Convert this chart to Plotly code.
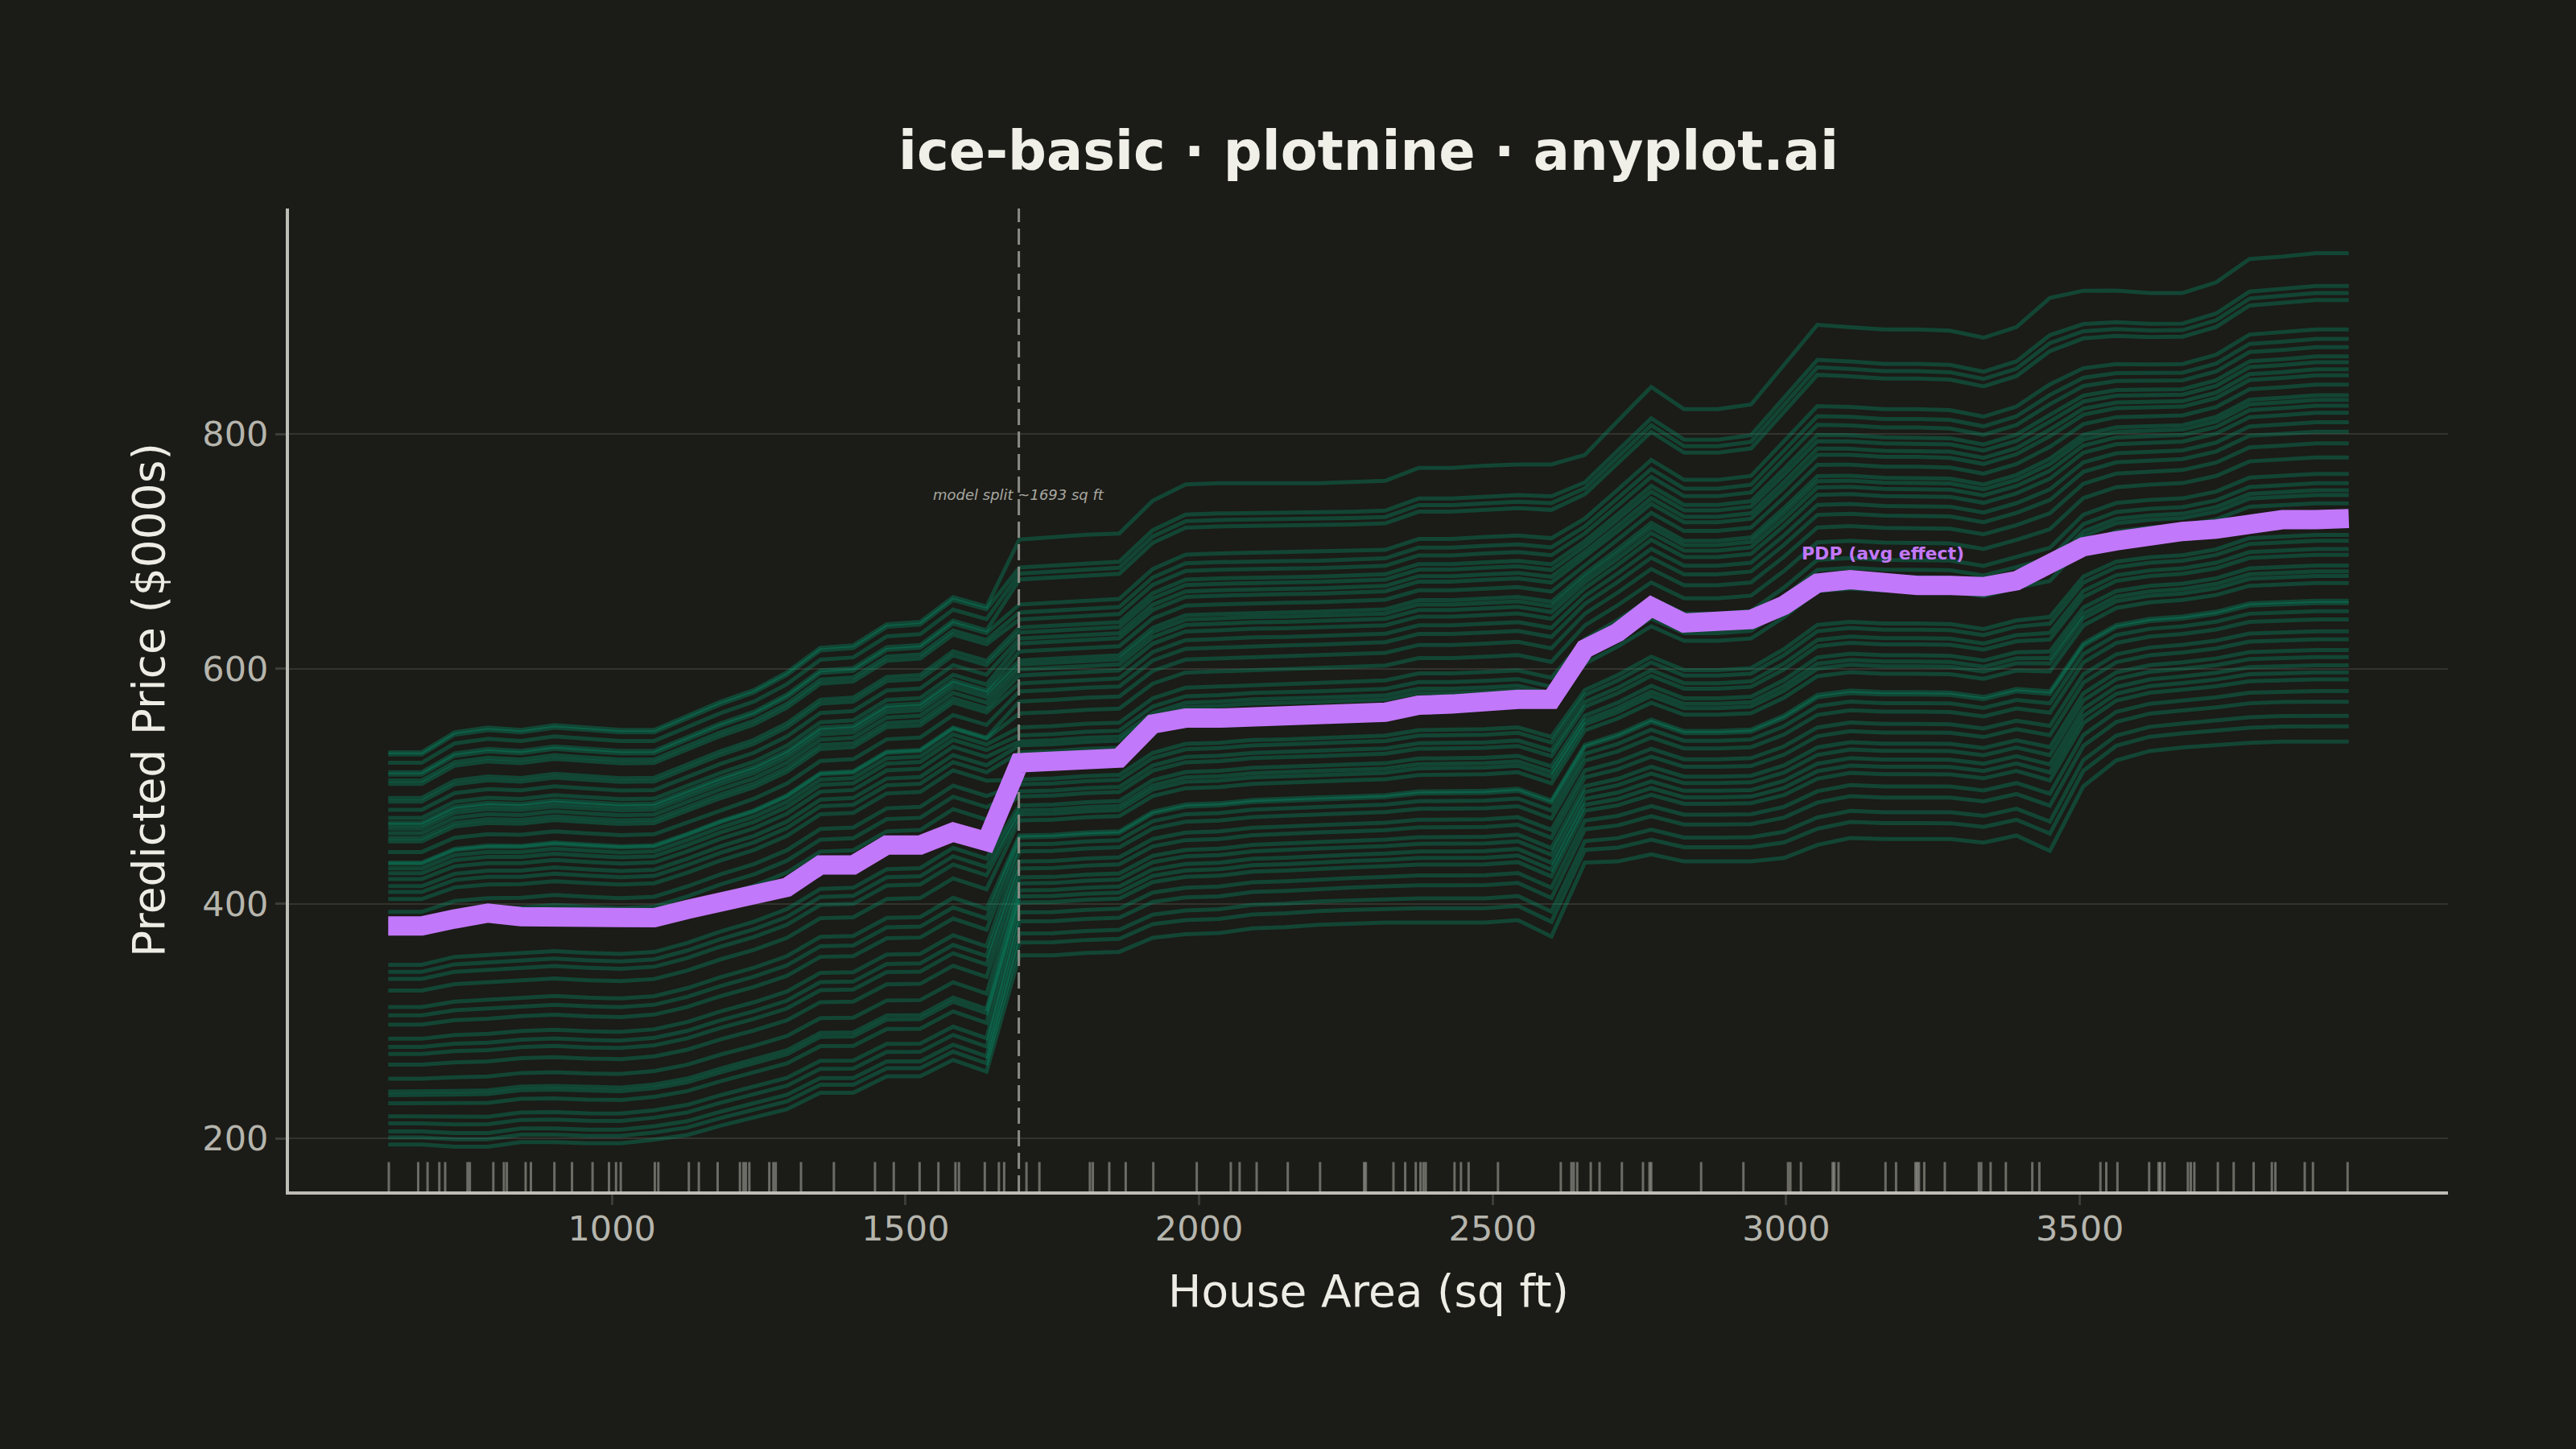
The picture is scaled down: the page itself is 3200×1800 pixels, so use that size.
import plotly.graph_objects as go

# grid of house areas where the model was evaluated (sq ft)
grid_x = [619, 676, 732, 789, 845, 902, 959, 1015, 1072, 1128,
          1185, 1242, 1298, 1355, 1411, 1468, 1525, 1581, 1638, 1694,
          1751, 1808, 1864, 1921, 1977, 2034, 2091, 2147, 2204, 2260,
          2317, 2374, 2430, 2487, 2543, 2600, 2657, 2713, 2770, 2826,
          2883, 2940, 2996, 3053, 3109, 3166, 3223, 3279, 3336, 3392,
          3449, 3506, 3562, 3619, 3675, 3732, 3789, 3845, 3902, 3958]

# partial dependence (average of the ICE curves), $000s
pdp = [381, 381, 387, 392, 389, 389, 388, 387, 388, 395,
       402, 407, 414, 433, 433, 450, 450, 461, 453, 520,
       520, 523, 524, 553, 558, 558, 558, 559, 562, 562,
       563, 569, 570, 574, 574, 574, 617, 631, 653, 639,
       639, 642, 654, 673, 676, 672, 671, 671, 670, 675,
       688, 704, 709, 714, 717, 719, 725, 727, 727, 728]

# upper / lower envelope of the ICE bundle
ice_high = [529, 529, 546, 550, 548, 552, 550, 548, 548, 560,
            572, 582, 597, 618, 620, 638, 640, 661, 653, 711,
            713, 715, 716, 744, 758, 759, 759, 759, 759, 760,
            761, 772, 772, 774, 775, 775, 783, 812, 841, 822,
            822, 826, 860, 894, 892, 890, 890, 889, 883, 892,
            917, 923, 923, 921, 921, 930, 950, 952, 955, 955]
ice_low = [195, 195, 193, 193, 197, 197, 196, 196, 199, 203,
           211, 218, 225, 239, 239, 253, 253, 267, 257, 356,
           356, 358, 359, 371, 374, 375, 379, 380, 382, 383,
           384, 384, 384, 384, 386, 372, 435, 436, 442, 436,
           436, 436, 439, 450, 456, 455, 455, 455, 452, 458,
           445, 500, 522, 530, 533, 535, 537, 538, 538, 538]

# where each ICE curve starts (smallest area) and ends (largest area)
ice_start = [195, 201, 206, 213, 219, 230, 237, 240, 251, 263,
             272, 278, 285, 297, 305, 312, 326, 336, 342, 348,
             376, 385, 393, 404, 410, 415, 421, 426, 430, 434,
             435, 444, 453, 456, 460, 464, 467, 469, 473, 480,
             487, 490, 502, 505, 510, 512, 520, 527, 529]
ice_end = [538, 551, 560, 572, 581, 591, 597, 603, 610, 616,
           625, 632, 642, 649, 656, 658, 673, 679, 683, 688,
           697, 702, 709, 714, 741, 748, 752, 758, 766, 780,
           792, 802, 810, 818, 824, 829, 833, 842, 850, 855,
           861, 866, 874, 881, 889, 914, 920, 926, 954]

# observed house areas (rug)
rug_x = [620, 670, 686, 706, 716, 754, 758, 798, 816, 821, 853, 862, 902,
         932, 967, 995, 1007, 1015, 1073, 1079, 1131, 1148, 1180, 1218,
         1224, 1228, 1234, 1268, 1275, 1279, 1322, 1378, 1448, 1480, 1524,
         1556, 1585, 1591, 1635, 1659, 1668, 1706, 1728, 1814, 1819, 1847,
         1875, 1922, 1996, 2054, 2069, 2098, 2151, 2206, 2281, 2284, 2331,
         2351, 2369, 2377, 2382, 2386, 2435, 2446, 2459, 2509, 2616, 2634,
         2638, 2644, 2667, 2682, 2720, 2756, 2767, 2770, 2855, 2927, 3003,
         3007, 3025, 3079, 3082, 3089, 3169, 3187, 3220, 3223, 3226, 3235,
         3270, 3328, 3332, 3348, 3374, 3419, 3431, 3535, 3545, 3564, 3618,
         3634, 3637, 3644, 3684, 3689, 3695, 3735, 3762, 3796, 3827, 3833,
         3883, 3897, 3956]

split_x = 1693

BG = '#1B1B17'
ICE_COLOR = 'rgba(0,158,115,0.32)'
PDP_COLOR = '#C278FA'
Y_MIN, Y_MAX = 155, 992

fig = go.Figure()

# ICE curves: place each curve inside the envelope by its rank at each end
span_l = ice_high[0] - ice_low[0]
span_r = ice_high[-1] - ice_low[-1]
for s, e in zip(ice_start, ice_end):
    f_left = (s - ice_low[0]) / span_l
    f_right = (e - ice_low[-1]) / span_r
    ys = []
    for x, lo, hi in zip(grid_x, ice_low, ice_high):
        f = f_left if x < split_x else f_right
        ys.append(lo + f * (hi - lo))
    fig.add_trace(go.Scatter(
        x=grid_x, y=ys, mode='lines',
        line=dict(color=ICE_COLOR, width=5),
        hoverinfo='skip', showlegend=False
    ))

# model split marker
fig.add_trace(go.Scatter(
    x=[split_x, split_x], y=[Y_MIN, Y_MAX], mode='lines',
    line=dict(color='#8C8C86', width=3, dash='20px,8px'),
    hoverinfo='skip', showlegend=False
))

# PDP
fig.add_trace(go.Scatter(
    x=grid_x, y=pdp, mode='lines',
    line=dict(color=PDP_COLOR, width=24),
    name='PDP', showlegend=False
))

# rug of observed areas
rug_xs, rug_ys = [], []
for x in rug_x:
    rug_xs += [x, x, None]
    rug_ys += [Y_MIN, 180, None]
fig.add_trace(go.Scatter(
    x=rug_xs, y=rug_ys, mode='lines',
    line=dict(color='rgba(175,175,168,0.55)', width=3),
    hoverinfo='skip', showlegend=False
))

fig.add_annotation(
    x=split_x, y=748, text='model split ~1693 sq ft', showarrow=False,
    font=dict(family='DejaVu Sans', size=18, color='#A8A8A0', style='italic')
)
fig.add_annotation(
    x=3165, y=698, text='<b>PDP (avg effect)</b>', showarrow=False,
    font=dict(family='DejaVu Sans', size=22, color=PDP_COLOR)
)

fig.update_layout(
    width=3200, height=1800,
    paper_bgcolor=BG, plot_bgcolor=BG,
    margin=dict(l=359, r=159, t=259, b=320),
    font=dict(family='DejaVu Sans', color='#B5B5AD'),
    title=dict(
        text='<b>ice-basic · plotnine · anyplot.ai</b>',
        x=0.5, xref='paper', xanchor='center',
        y=1 - 188 / 1800, yref='container', yanchor='middle',
        font=dict(family='DejaVu Sans', size=67, color='#F0F0E8')
    ),
    showlegend=False
)

fig.update_xaxes(
    range=[450, 4127],
    tickvals=[1000, 1500, 2000, 2500, 3000, 3500],
    tickfont=dict(size=43, color='#B5B5AD'),
    ticks='outside', ticklen=13, tickwidth=3, tickcolor='#3C3C38',
    ticklabelstandoff=-8,
    showgrid=False, zeroline=False,
    showline=True, linecolor='#BDBDB5', linewidth=4,
    automargin=False,
    title=dict(text='House Area (sq ft)', standoff=36,
               font=dict(size=55, color='#EDEDE5'))
)
fig.update_yaxes(
    range=[Y_MIN, Y_MAX],
    tickvals=[200, 400, 600, 800],
    tickfont=dict(size=43, color='#B5B5AD'),
    ticks='outside', ticklen=13, tickwidth=3, tickcolor='#3C3C38',
    showgrid=True, gridcolor='#33332E', gridwidth=2,
    zeroline=False,
    showline=True, linecolor='#BDBDB5', linewidth=4,
    automargin=False,
    title=dict(text='Predicted Price ($000s)', standoff=30,
               font=dict(size=55, color='#EDEDE5'))
)

# drop the page margin so the figure fills the window exactly
fig.write_html('out.html', config={'displayModeBar': False},
               post_script="document.body.style.margin='0';")
